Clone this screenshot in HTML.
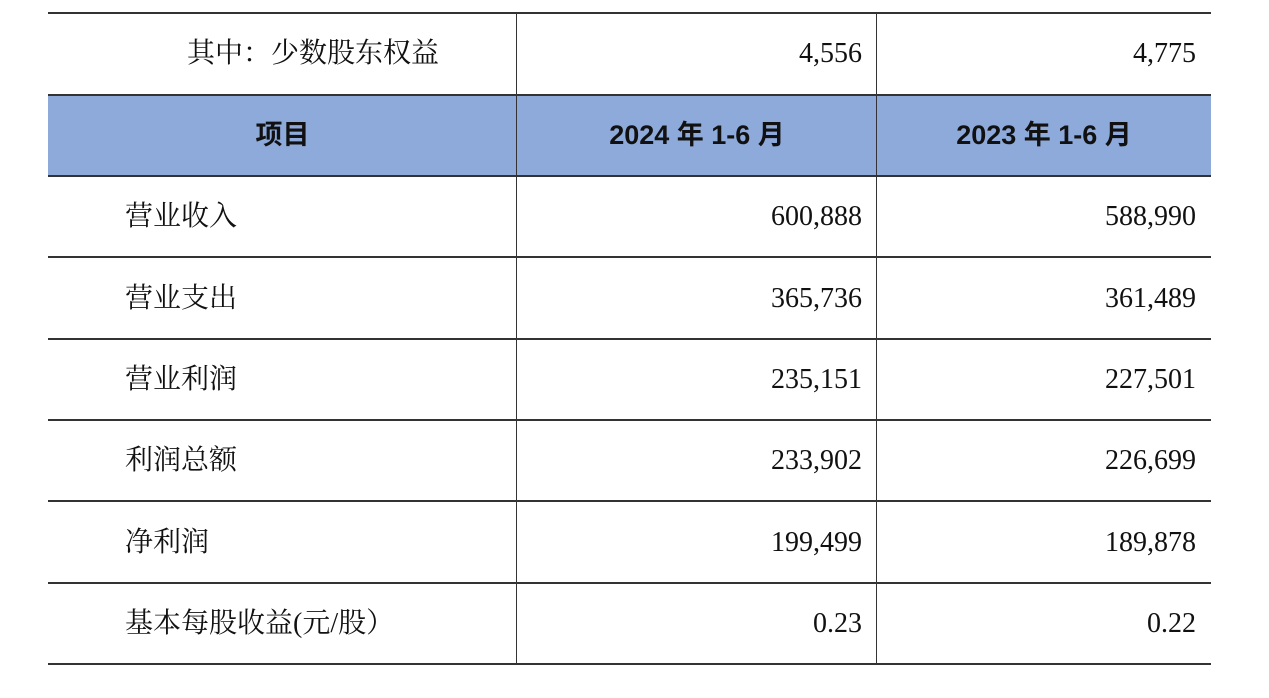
<!DOCTYPE html>
<html><head><meta charset="utf-8"><style>
body{margin:0;width:1269px;height:698px;background:#fff;position:relative;overflow:hidden}
.h{position:absolute;left:48px;width:1163px;height:0;border-top:2px solid #333}
.v{position:absolute;width:0;border-left:1.5px solid #333;top:13px;height:651px}
.c{position:absolute;height:81px;line-height:81px;font-family:"Liberation Serif","Noto Serif CJK SC",serif;font-size:28px;color:#111;white-space:nowrap}
.hd{font-family:"Liberation Sans","Noto Sans CJK SC",sans-serif;font-weight:bold;font-size:27px;text-align:center}
.n{text-align:right}
</style></head><body>
<div style="position:absolute;left:48px;top:95px;width:1163px;height:81px;background:#8eaadb"></div>
<div class="h" style="top:12px"></div>
<div class="h" style="top:94px"></div>
<div class="h" style="top:175px"></div>
<div class="h" style="top:256px"></div>
<div class="h" style="top:338px"></div>
<div class="h" style="top:419px"></div>
<div class="h" style="top:500px"></div>
<div class="h" style="top:582px"></div>
<div class="h" style="top:663px"></div>
<div class="v" style="left:516px"></div>
<div class="v" style="left:876px"></div>

<div class="c" style="left:187px;top:13px">其中：少数股东权益</div>
<div class="c n" style="left:517px;width:345px;top:13px">4,556</div>
<div class="c n" style="left:877px;width:319px;top:13px">4,775</div>

<div class="c hd" style="left:48px;width:469px;top:95px">项目</div>
<div class="c hd" style="left:517px;width:360px;top:95px">2024 年 1-6 月</div>
<div class="c hd" style="left:877px;width:334px;top:95px">2023 年 1-6 月</div>

<div class="c" style="left:125px;top:176px">营业收入</div>
<div class="c n" style="left:517px;width:345px;top:176px">600,888</div>
<div class="c n" style="left:877px;width:319px;top:176px">588,990</div>

<div class="c" style="left:125px;top:258px">营业支出</div>
<div class="c n" style="left:517px;width:345px;top:258px">365,736</div>
<div class="c n" style="left:877px;width:319px;top:258px">361,489</div>

<div class="c" style="left:125px;top:339px">营业利润</div>
<div class="c n" style="left:517px;width:345px;top:339px">235,151</div>
<div class="c n" style="left:877px;width:319px;top:339px">227,501</div>

<div class="c" style="left:125px;top:420px">利润总额</div>
<div class="c n" style="left:517px;width:345px;top:420px">233,902</div>
<div class="c n" style="left:877px;width:319px;top:420px">226,699</div>

<div class="c" style="left:125px;top:502px">净利润</div>
<div class="c n" style="left:517px;width:345px;top:502px">199,499</div>
<div class="c n" style="left:877px;width:319px;top:502px">189,878</div>

<div class="c" style="left:125px;top:583px">基本每股收益(元/股）</div>
<div class="c n" style="left:517px;width:345px;top:583px">0.23</div>
<div class="c n" style="left:877px;width:319px;top:583px">0.22</div>
</body></html>
